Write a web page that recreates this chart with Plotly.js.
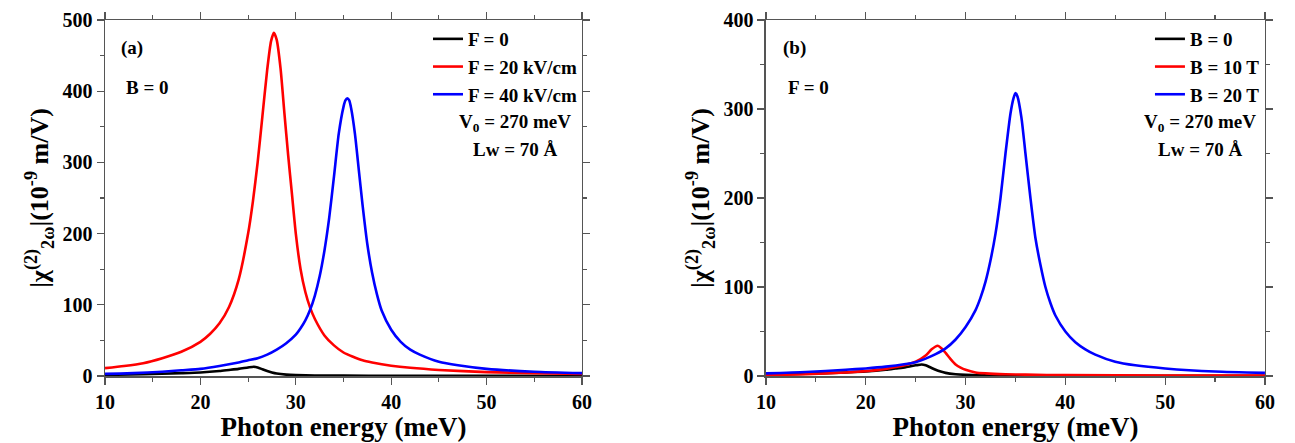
<!DOCTYPE html>
<html>
<head>
<meta charset="utf-8">
<script src="https://cdn.plot.ly/plotly-3.0.1.min.js"></script>
<style>html,body{margin:0;padding:0;background:#fff;}#plot{width:1295px;height:443px;}</style>
</head>
<body>
<div id="plot"></div>
<script>
// ---------- Panel (a): B = 0, varying F ----------
const aF0_x  = [10, 14, 18, 20, 22, 23, 24, 25, 25.6, 26, 26.5, 27, 27.5, 28, 29, 30, 32, 35, 40, 50, 60];
const aF0_y  = [1.5, 2.5, 4, 5, 7, 8.5, 10, 12, 13, 12, 9.5, 7, 5, 3.5, 2, 1.3, 0.8, 0.5, 0.3, 0.2, 0.1];

const aF20_x = [10, 12, 14, 16, 18, 20, 21, 22, 23, 24, 25, 25.5, 26, 26.5, 27, 27.4, 27.7, 28, 28.4, 28.8, 29.2, 29.6, 30, 30.5, 31, 31.5, 32, 33, 34, 35, 36, 37, 38, 40, 42, 45, 50, 55, 60];
const aF20_y = [11, 14, 18, 25, 34, 48, 59, 74, 97, 135, 200, 245, 300, 365, 430, 470, 482, 472, 432, 370, 310, 255, 200, 150, 118, 96, 80, 57, 43, 33, 27, 22, 19, 14.5, 11.5, 8.5, 5.5, 4, 3];

const aF40_x = [10, 13, 16, 18, 20, 22, 24, 25, 26, 27, 28, 29, 30, 30.5, 31, 31.5, 32, 32.5, 33, 33.5, 34, 34.5, 35, 35.2, 35.4, 35.6, 35.8, 36.2, 36.6, 37, 37.5, 38, 38.5, 39, 40, 41, 42, 43, 45, 47, 50, 55, 60];
const aF40_y = [3, 4, 6, 8, 10, 14, 19, 22, 25, 30, 37, 46, 58, 67, 78, 93, 113, 140, 176, 222, 280, 340, 378, 387, 390, 387, 376, 340, 290, 240, 185, 145, 115, 92, 65, 48, 37, 30, 20, 15, 10, 6, 4];

// ---------- Panel (b): F = 0, varying B ----------
const bB0_x  = [10, 14, 18, 20, 22, 23, 24, 25, 25.6, 26, 26.5, 27, 27.5, 28, 29, 30, 32, 35, 40, 50, 60];
const bB0_y  = [1.5, 2.5, 4, 5, 7, 8.5, 10, 12, 13, 12, 9.5, 7, 5, 3.5, 2, 1.3, 0.8, 0.5, 0.3, 0.2, 0.1];

const bB10_x = [10, 14, 18, 20, 22, 23, 24, 25, 26, 26.6, 27.2, 27.6, 28, 28.5, 29, 29.5, 30, 31, 32, 34, 36, 40, 50, 60];
const bB10_y = [1, 2, 4, 5.5, 8, 10, 12.5, 16, 23, 30, 34, 31, 26, 19, 13, 9.5, 7, 4, 3, 2, 1.5, 1, 0.6, 0.4];

const bB20_x = [10, 14, 18, 20, 22, 24, 25, 26, 27, 28, 29, 30, 31, 31.5, 32, 32.5, 33, 33.5, 34, 34.5, 34.8, 35, 35.2, 35.6, 36, 36.5, 37, 37.5, 38, 38.5, 39, 40, 41, 42, 43, 45, 47, 50, 55, 60];
const bB20_y = [3, 4.5, 7, 8.5, 10.5, 13.5, 15.5, 19.5, 24.5, 31, 41, 55, 74, 88, 106, 130, 160, 200, 250, 295, 312, 318, 314, 290, 250, 200, 155, 125, 100, 82, 68, 50, 38, 30, 24, 16, 12, 8.5, 5, 3.5];

const namesA = ['F = 0', 'F = 20 kV/cm', 'F = 40 kV/cm'];
const namesB = ['B = 0', 'B = 10 T', 'B = 20 T'];
const colors = ['#000000', '#ff0000', '#0000ff'];

const xTicks = [10, 20, 30, 40, 50, 60];
const yTicksA = [0, 100, 200, 300, 400, 500];
const yTicksB = [0, 100, 200, 300, 400];

const FONT = '"Liberation Serif", "Times New Roman", serif';

function tr(x, y, name, color, xa, ya, leg) {
  return {x: x, y: y, name: name, type: 'scatter', mode: 'lines',
          line: {color: color, width: 2.6, shape: 'spline', smoothing: 0.6},
          xaxis: xa, yaxis: ya, legend: leg};
}

const data = [
  tr(aF0_x, aF0_y, namesA[0], colors[0], 'x', 'y', 'legend'),
  tr(aF20_x, aF20_y, namesA[1], colors[1], 'x', 'y', 'legend'),
  tr(aF40_x, aF40_y, namesA[2], colors[2], 'x', 'y', 'legend'),
  tr(bB0_x, bB0_y, namesB[0], colors[0], 'x2', 'y2', 'legend2'),
  tr(bB10_x, bB10_y, namesB[1], colors[1], 'x2', 'y2', 'legend2'),
  tr(bB20_x, bB20_y, namesB[2], colors[2], 'x2', 'y2', 'legend2')
];

const tickFont = {family: FONT, size: 20, color: '#000', weight: 'bold'};
const lineCol = '#555555';

function xax(domain, anchor) {
  return {domain: domain, anchor: anchor, range: [10, 60], tickvals: xTicks, ticktext: xTicks.map(v => '<b>' + v + '</b>'),
          showline: true, linecolor: lineCol, linewidth: 1.5, mirror: 'ticks',
          ticks: 'outside', ticklen: 7, tickwidth: 1.3, tickcolor: lineCol,
          minor: {dtick: 5, ticks: 'outside', ticklen: 4, tickwidth: 1.2, tickcolor: lineCol, showgrid: false},
          showgrid: false, zeroline: false, tickfont: tickFont,
          title: {text: 'Photon energy (meV)', font: {family: FONT, size: 27, color: '#000', weight: 'bold'}, standoff: 5}};
}
function yax(domain, anchor, range, ticks) {
  return {domain: domain, anchor: anchor, range: range, tickvals: ticks, ticktext: ticks.map(v => '<b>' + v + '</b>'),
          showline: true, linecolor: lineCol, linewidth: 1.5, mirror: 'ticks',
          ticks: 'outside', ticklen: 7, tickwidth: 1.3, tickcolor: lineCol,
          minor: {dtick: 50, ticks: 'outside', ticklen: 4, tickwidth: 1.2, tickcolor: lineCol, showgrid: false},
          showgrid: false, zeroline: false, tickfont: tickFont,
          title: {text: '|χ<sup>(2)</sup><sub>2ω</sub>|(10<sup>-9</sup> m/V)', font: {family: FONT, size: 26, color: '#000', weight: 'bold'}, standoff: 6}};
}

const legFont = {family: FONT, size: 19, color: '#000', weight: 'bold'};
const annFont = {family: FONT, size: 19, color: '#000', weight: 'bold'};

const layout = {
  width: 1295, height: 443,
  margin: {l: 0, r: 0, t: 20, b: 67},
  paper_bgcolor: '#fff', plot_bgcolor: '#fff',
  font: {family: FONT, color: '#000'},
  showlegend: true,
  xaxis: xax([0.0811, 0.4494], 'y'),
  yaxis: yax([0, 1], 'x', [0, 500], yTicksA),
  xaxis2: xax([0.5915, 0.9768], 'y2'),
  yaxis2: yax([0, 1], 'x2', [0, 400], yTicksB),
  legend: {x: 0.4494, xanchor: 'right', y: 1.0, yanchor: 'top', bgcolor: 'rgba(0,0,0,0)',
           font: legFont, tracegroupgap: 0, itemwidth: 30},
  legend2: {x: 0.9768, xanchor: 'right', y: 1.0, yanchor: 'top', bgcolor: 'rgba(0,0,0,0)',
           font: legFont, tracegroupgap: 0, itemwidth: 30},
  annotations: [
    {text: '(a)', xref: 'x domain', yref: 'y domain', x: 0.03, y: 0.92, xanchor: 'left', yanchor: 'middle', showarrow: false, font: annFont},
    {text: 'B = 0', xref: 'x domain', yref: 'y domain', x: 0.04, y: 0.81, xanchor: 'left', yanchor: 'middle', showarrow: false, font: annFont},
    {text: 'V<sub>0</sub> = 270 meV', xref: 'x domain', yref: 'y domain', x: 0.86, y: 0.71, xanchor: 'center', yanchor: 'middle', showarrow: false, font: annFont},
    {text: 'Lw = 70 Å', xref: 'x domain', yref: 'y domain', x: 0.86, y: 0.635, xanchor: 'center', yanchor: 'middle', showarrow: false, font: annFont},
    {text: '(b)', xref: 'x2 domain', yref: 'y2 domain', x: 0.03, y: 0.92, xanchor: 'left', yanchor: 'middle', showarrow: false, font: annFont},
    {text: 'F = 0', xref: 'x2 domain', yref: 'y2 domain', x: 0.04, y: 0.81, xanchor: 'left', yanchor: 'middle', showarrow: false, font: annFont},
    {text: 'V<sub>0</sub> = 270 meV', xref: 'x2 domain', yref: 'y2 domain', x: 0.87, y: 0.71, xanchor: 'center', yanchor: 'middle', showarrow: false, font: annFont},
    {text: 'Lw = 70 Å', xref: 'x2 domain', yref: 'y2 domain', x: 0.87, y: 0.635, xanchor: 'center', yanchor: 'middle', showarrow: false, font: annFont}
  ]
};

Plotly.newPlot('plot', data, layout, {displayModeBar: false, staticPlot: true});
</script>
</body>
</html>
